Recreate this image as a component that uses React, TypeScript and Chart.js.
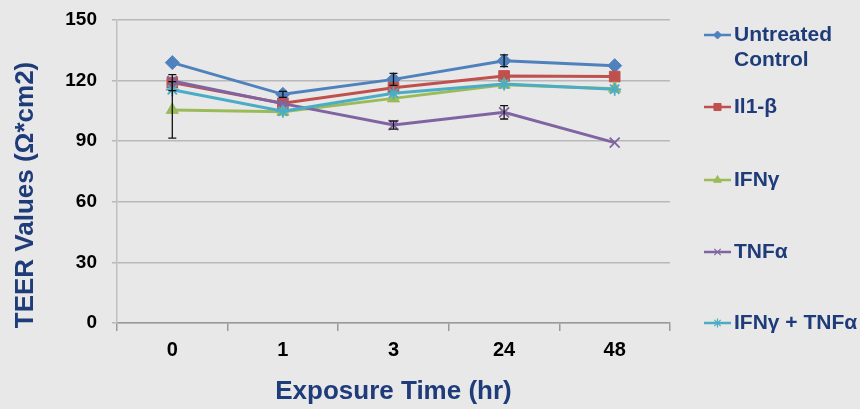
import React, { useEffect, useRef } from 'react';
import { Chart, registerables } from 'chart.js';
import { drawPoint } from 'chart.js/helpers';

Chart.register(...registerables);

const categories = ['0', '1', '3', '24', '48'];
const yTicks = [0, 30, 60, 90, 120, 150];
const yTitle = 'TEER Values (Ω*cm2)';
const xTitle = 'Exposure Time (hr)';

const seriesNames = [['Untreated', 'Control'], ['Il1-β'], ['IFNγ'], ['TNFα'], ['IFNγ + TNFα']];

const untreated = [128.9, 113.2, 120.6, 129.8, 127.4];
const untreatedErr = [0, 1.5, 3, 2.9, 0];
const il1b = [119, 108.8, 116.5, 122.3, 122];
const il1bErr = [4, 0, 0, 0, 0];
const ifng = [105.5, 104.6, 111.2, 118, 116];
const ifngErr = [14, 0, 0, 0, 0];
const tnfa = [119.8, 108.6, 98, 104.3, 89.3];
const tnfaErr = [0, 0, 2, 3.3, 0];
const combo = [115.5, 104.8, 113.7, 118.3, 115.7];
const comboErr = [0, 0, 0, 0, 0];

const colors = ['#4F81BD', '#C0504D', '#9BBB59', '#8064A2', '#4BACC6'];
const styles = ['rectRot', 'rect', 'triangle', 'crossRot', 'star'];
const radii = [7, 7.5, 7, 7, 6.5];
const legendRadii = [4, 5, 4.5, 4.5, 4.5];
const seriesData = [untreated, il1b, ifng, tnfa, combo];
const seriesErr = [untreatedErr, il1bErr, ifngErr, tnfaErr, comboErr];

const NAVY = '#1F3C7A';
const FONT = "'Liberation Sans', Arial, sans-serif";

const errorBarPlugin = {
  id: 'errorBars',
  afterDatasetsDraw(chart: any) {
    const { ctx, scales } = chart;
    const xs = scales.x;
    const ys = scales.y;
    ctx.save();
    ctx.strokeStyle = '#111';
    ctx.lineWidth = 1.3;
    seriesErr.forEach((errs, d) => {
      errs.forEach((e, i) => {
        if (!e) return;
        const v = seriesData[d][i];
        const x = xs.getPixelForValue(i);
        const yt = ys.getPixelForValue(v + e);
        const yb = ys.getPixelForValue(v - e);
        ctx.beginPath();
        ctx.moveTo(x, yt);
        ctx.lineTo(x, yb);
        ctx.moveTo(x - 4, yt);
        ctx.lineTo(x + 4, yt);
        ctx.moveTo(x - 4, yb);
        ctx.lineTo(x + 4, yb);
        ctx.stroke();
      });
    });
    ctx.restore();
  },
};

const legendPlugin = {
  id: 'customLegend',
  afterDraw(chart: any) {
    const { ctx } = chart;
    const rows = [35, 107, 180, 252, 323];
    ctx.save();
    rows.forEach((y, i) => {
      ctx.strokeStyle = colors[i];
      ctx.lineWidth = 2.5;
      ctx.beginPath();
      ctx.moveTo(704, y);
      ctx.lineTo(731, y);
      ctx.stroke();
      ctx.fillStyle = colors[i];
      ctx.strokeStyle = colors[i];
      ctx.lineWidth = i >= 3 ? 1.2 : 1;
      drawPoint(ctx, { pointStyle: styles[i], radius: legendRadii[i], borderWidth: i >= 3 ? 1.2 : 1, rotation: 0 } as any, 717.5, y);
      ctx.fillStyle = NAVY;
      ctx.font = `bold 21px ${FONT}`;
      ctx.textBaseline = 'middle';
      ctx.textAlign = 'left';
      seriesNames[i].forEach((line, k) => {
        ctx.fillText(line, 734, y + k * 25);
      });
    });
    // y-axis title
    ctx.translate(26, 195);
    ctx.rotate(-Math.PI / 2);
    ctx.fillStyle = NAVY;
    ctx.font = `bold 26px ${FONT}`;
    ctx.textAlign = 'center';
    ctx.textBaseline = 'middle';
    ctx.fillText(yTitle, 0, 0);
    ctx.restore();
  },
};

export default function App() {
  const ref = useRef<HTMLCanvasElement | null>(null);
  useEffect(() => {
    document.body.style.margin = '0';
    const canvas = ref.current;
    if (!canvas) return;
    const chart = new Chart(canvas, {
      type: 'line',
      data: {
        labels: categories,
        datasets: seriesData.map((d, i) => ({
          label: seriesNames[i].join(' '),
          data: d,
          borderColor: colors[i],
          backgroundColor: colors[i],
          borderWidth: 3,
          pointStyle: styles[i] as any,
          pointRadius: radii[i],
          pointBorderWidth: i >= 3 ? 1.8 : 1,
          pointBorderColor: colors[i],
          pointBackgroundColor: colors[i],
          tension: 0,
          fill: false,
          order: 4 - i,
        })),
      },
      options: {
        responsive: false,
        animation: false,
        devicePixelRatio: 1,
        layout: { padding: { top: 20, right: 190, left: 0, bottom: 0 } },
        plugins: {
          legend: { display: false },
          tooltip: { enabled: false },
        },
        scales: {
          x: {
            type: 'category',
            offset: true,
            grid: {
              offset: true,
              drawOnChartArea: false,
              drawTicks: true,
              tickLength: 8,
              color: '#9a9a9a',
              lineWidth: 1.5,
            },
            border: { color: '#9a9a9a', width: 1.5 },
            ticks: {
              color: '#000',
              font: { family: FONT, size: 20, weight: 'bold' },
              padding: 7,
            },
            title: {
              display: true,
              text: xTitle,
              color: NAVY,
              font: { family: FONT, size: 26, weight: 'bold' },
              padding: { top: 0, bottom: 1.5 },
            },
            afterFit(scale: any) {
              scale.height = 86;
            },
          },
          y: {
            min: 0,
            max: 150,
            afterBuildTicks(scale: any) {
              scale.ticks = yTicks.map((v) => ({ value: v }));
            },
            grid: {
              color: '#b8b8b8',
              lineWidth: 1.5,
              tickLength: 5,
            },
            border: { color: '#c0c0c0', width: 1.5 },
            ticks: {
              color: '#000',
              font: { family: FONT, size: 19, weight: 'bold' },
              padding: 15,
            },
            title: { display: false },
            afterFit(scale: any) {
              scale.width = 117;
              scale.paddingTop = 0;
              scale.paddingBottom = 0;
            },
          },
        },
      },
      plugins: [errorBarPlugin, legendPlugin],
    });
    return () => chart.destroy();
  }, []);
  return (
    <div style={{ width: 860, height: 409, background: '#e8e8e8', position: 'relative', overflow: 'hidden' }}>
      <canvas ref={ref} width={860} height={409} style={{ display: 'block' }} />
    </div>
  );
}
